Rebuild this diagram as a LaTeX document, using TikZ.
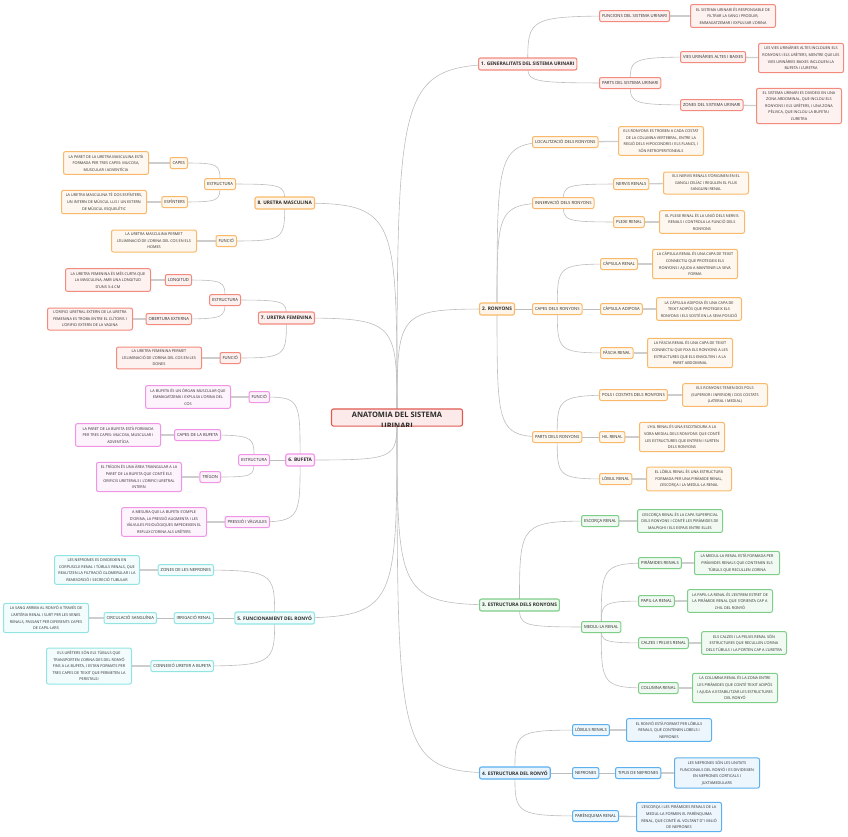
\documentclass[tikz,border=0pt]{standalone}
\usepackage{fontspec}
\setmainfont{Open Sans}
\usepackage{xcolor}
\usepackage{tikz}
\usetikzlibrary{backgrounds}
\definecolor{urired}{HTML}{E05A52}
\definecolor{urisalmon}{HTML}{F28A7E}
\definecolor{uriorange}{HTML}{F8BA6A}
\definecolor{urigreen}{HTML}{7ECD88}
\definecolor{uriblue}{HTML}{5CB0EE}
\definecolor{uripink}{HTML}{F094E6}
\definecolor{uricyan}{HTML}{92E4E4}
\definecolor{urilink}{HTML}{BDBDBD}
\definecolor{uritext}{HTML}{2B2B2B}

\begin{document}
\begin{tikzpicture}[
  x=1pt, y=-1pt,
  every node/.style={text=uritext},
  rootbox/.style={draw=urired, fill=urired!13, line width=1.1pt, rounded corners=2pt,
                  minimum width=131pt, minimum height=17pt, text depth=5pt,
                  font=\fontsize{7.5}{9}\selectfont\bfseries},
  rootline/.style={inner sep=0pt, font=\fontsize{7.5}{9}\selectfont\bfseries},
  topic/.style={draw=#1, fill=#1!14, line width=1.1pt, rounded corners=2pt,
                minimum height=12pt, inner xsep=2.5pt, inner ysep=0pt,
                font=\fontsize{4.8}{6}\selectfont\bfseries},
  sub/.style={draw=#1, fill=#1!12, line width=1pt, rounded corners=2pt,
              minimum height=11pt, inner xsep=2.5pt, inner ysep=0pt,
              font=\fontsize{4.2}{5}\selectfont},
  leaf/.style={draw=#1, fill=#1!11, line width=1pt, rounded corners=2pt, align=center,
               minimum width=85pt, inner xsep=2pt, inner ysep=3pt,
               font=\fontsize{3.8}{6.6}\selectfont},
  branch/.style={draw=urilink, line width=0.6pt},
  link/.style={draw=urilink!75, line width=1.3pt}
]
\useasboundingbox (0,0) rectangle (848,836);

% centre
\node[rootbox] (root) at (397,417.5) {ANATOMIA DEL SISTEMA};
\begin{scope}
  \clip (root.south west) rectangle (root.north east);
  \node[rootline] (rootb) at (397,426) {URINARI};
\end{scope}

% 1. generalitats
\node[topic=urisalmon, anchor=west] (gen) at (478,64) {1. GENERALITATS DEL SISTEMA URINARI};
\node[sub=urisalmon, anchor=west] (genfun) at (599,16) {FUNCIONS DEL SISTEMA URINARI};
\node[leaf=urisalmon, anchor=west] (genfund) at (690,16) {EL SISTEMA URINARI ÉS RESPONSABLE DE\\FILTRAR LA SANG I PRODUIR,\\EMMAGATZEMAR I EXPULSAR L'ORINA};
\node[sub=urisalmon, anchor=west] (genpar) at (599,83) {PARTS DEL SISTEMA URINARI};
\node[sub=urisalmon, anchor=west] (genvies) at (680,57) {VIES URINÀRIES ALTES I BAIXES};
\node[leaf=urisalmon, anchor=west] (genviesd) at (758,58) {LES VIES URINÀRIES ALTES INCLOUEN ELS\\RONYONS I ELS URÈTERS, MENTRE QUE LES\\VIES URINÀRIES BAIXES INCLOUEN LA\\BUFETA I L'URETRA};
\node[sub=urisalmon, anchor=west] (genzon) at (680,105) {ZONES DEL SISTEMA URINARI};
\node[leaf=urisalmon, anchor=west] (genzond) at (756,106) {EL SISTEMA URINARI ES DIVIDEIX EN UNA\\ZONA ABDOMINAL, QUE INCLOU ELS\\RONYONS I ELS URÈTERS, I UNA ZONA\\PÈLVICA, QUE INCLOU LA BUFETA I\\L'URETRA};

% 2. ronyons
\node[topic=uriorange, anchor=west] (ron) at (479,309) {2. RONYONS};
\node[sub=uriorange, anchor=west] (ronloc) at (532,142) {LOCALITZACIÓ DELS RONYONS};
\node[leaf=uriorange, anchor=west] (ronlocd) at (618,141) {ELS RONYONS ES TROBEN A CADA COSTAT\\DE LA COLUMNA VERTEBRAL, ENTRE LA\\REGIÓ DELS HIPOCONDRIS I ELS FLANCS, I\\SÓN RETROPERITONEALS};
\node[sub=uriorange, anchor=west] (roninn) at (532,203) {INNERVACIÓ DELS RONYONS};
\node[sub=uriorange, anchor=west] (ronnerv) at (613,184) {NERVIS RENALS};
\node[leaf=uriorange, anchor=west] (ronnervd) at (663,183) {ELS NERVIS RENALS S'ORIGINEN EN EL\\GANGLI CELÍAC I REGULEN EL FLUX\\SANGUINI RENAL};
\node[sub=uriorange, anchor=west] (ronplex) at (613,222) {PLEXE RENAL};
\node[leaf=uriorange, anchor=west] (ronplexd) at (659,222) {EL PLEXE RENAL ÉS LA UNIÓ DELS NERVIS\\RENALS I CONTROLA LA FUNCIÓ DELS\\RONYONS};
\node[sub=uriorange, anchor=west] (roncap) at (532,309) {CAPES DELS RONYONS};
\node[sub=uriorange, anchor=west] (roncaps) at (600,264) {CÀPSULA RENAL};
\node[leaf=uriorange, anchor=west] (roncapsd) at (652,264) {LA CÀPSULA RENAL ÉS UNA CAPA DE TEIXIT\\CONNECTIU QUE PROTEGEIX ELS\\RONYONS I AJUDA A MANTENIR LA SEVA\\FORMA};
\node[sub=uriorange, anchor=west] (ronadip) at (600,309) {CÀPSULA ADIPOSA};
\node[leaf=uriorange, anchor=west] (ronadipd) at (656,309) {LA CÀPSULA ADIPOSA ÉS UNA CAPA DE\\TEIXIT ADIPÓS QUE PROTEGEIX ELS\\RONYONS I ELS SOSTÉ EN LA SEVA POSICIÓ};
\node[sub=uriorange, anchor=west] (ronfasc) at (600,353) {FÀSCIA RENAL};
\node[leaf=uriorange, anchor=west] (ronfascd) at (647,353) {LA FÀSCIA RENAL ÉS UNA CAPA DE TEIXIT\\CONNECTIU QUE FIXA ELS RONYONS A LES\\ESTRUCTURES QUE ELS ENVOLTEN I A LA\\PARET ABDOMINAL};
\node[sub=uriorange, anchor=west] (ronpar) at (532,437) {PARTS DELS RONYONS};
\node[sub=uriorange, anchor=west] (ronpols) at (599,395) {POLS I COSTATS DELS RONYONS};
\node[leaf=uriorange, anchor=west] (ronpolsd) at (682,395) {ELS RONYONS TENEN DOS POLS\\(SUPERIOR I INFERIOR) I DOS COSTATS\\(LATERAL I MEDIAL)};
\node[sub=uriorange, anchor=west] (ronhil) at (599,437) {HIL RENAL};
\node[leaf=uriorange, anchor=west] (ronhild) at (639,437) {L'HIL RENAL ÉS UNA ESCOTADURA A LA\\VORA MEDIAL DELS RONYONS QUE CONTÉ\\LES ESTRUCTURES QUE ENTREN I SURTEN\\DELS RONYONS};
\node[sub=uriorange, anchor=west] (ronlob) at (599,479) {LÒBUL RENAL};
\node[leaf=uriorange, anchor=west] (ronlobd) at (646,479) {EL LÒBUL RENAL ÉS UNA ESTRUCTURA\\FORMADA PER UNA PIRÀMIDE RENAL,\\L'ESCORÇA I LA MEDUL·LA RENAL};

% 3. estructura dels ronyons
\node[topic=urigreen, anchor=west] (estrs) at (479,605) {3. ESTRUCTURA DELS RONYONS};
\node[sub=urigreen, anchor=west] (esc) at (581,521) {ESCORÇA RENAL};
\node[leaf=urigreen, anchor=west] (escd) at (637,521) {L'ESCORÇA RENAL ÉS LA CAPA SUPERFICIAL\\DELS RONYONS I CONTÉ LES PIRÀMIDES DE\\MALPIGHI I ELS ESPAIS ENTRE ELLES};
\node[sub=urigreen, anchor=west] (med) at (581,627) {MEDUL·LA RENAL};
\node[sub=urigreen, anchor=west] (pir) at (638,563) {PIRÀMIDES RENALS};
\node[leaf=urigreen, anchor=west] (pird) at (694,563) {LA MEDUL·LA RENAL ESTÀ FORMADA PER\\PIRÀMIDES RENALS QUE CONTENEN ELS\\TÚBULS QUE RECULLEN L'ORINA};
\node[sub=urigreen, anchor=west] (pap) at (638,601) {PAPIL·LA RENAL};
\node[leaf=urigreen, anchor=west] (papd) at (687,601) {LA PAPIL·LA RENAL ÉS L'EXTREM ESTRET DE\\LA PIRÀMIDE RENAL QUE S'ORIENTA CAP A\\L'HIL DEL RONYÓ};
\node[sub=urigreen, anchor=west] (calz) at (638,643) {CALZES I PELVIS RENAL};
\node[leaf=urigreen, anchor=west] (calzd) at (701,643) {ELS CALZES I LA PELVIS RENAL SÓN\\ESTRUCTURES QUE RECULLEN L'ORINA\\DELS TÚBULS I LA PORTEN CAP A L'URETRA};
\node[sub=urigreen, anchor=west] (col) at (638,688) {COLUMNA RENAL};
\node[leaf=urigreen, anchor=west] (cold) at (692,688) {LA COLUMNA RENAL ÉS LA ZONA ENTRE\\LES PIRÀMIDES QUE CONTÉ TEIXIT ADIPÓS\\I AJUDA A ESTABILITZAR LES ESTRUCTURES\\DEL RONYÓ};

% 4. estructura del ronyo
\node[topic=uriblue, anchor=west] (estr) at (479,773) {4. ESTRUCTURA DEL RONYÓ};
\node[sub=uriblue, anchor=west] (lobs) at (572,730) {LÒBULS RENALS};
\node[leaf=uriblue, anchor=west] (lobsd) at (626,730) {EL RONYÓ ESTÀ FORMAT PER LÒBULS\\RENALS, QUE CONTENEN LOBELS I\\NEFRONES};
\node[sub=uriblue, anchor=west] (nef) at (572,773) {NEFRONES};
\node[sub=uriblue, anchor=west] (tip) at (615,773) {TIPUS DE NEFRONES};
\node[leaf=uriblue, anchor=west] (tipd) at (674,773) {LES NEFRONES SÓN LES UNITATS\\FUNCIONALS DEL RONYÓ I ES DIVIDEIXEN\\EN NEFRONES CORTICALS I\\JUXTAMEDULARS};
\node[sub=uriblue, anchor=west] (par) at (572,816) {PARÈNQUIMA RENAL};
\node[leaf=uriblue, anchor=west] (pard) at (636,817) {L'ESCORÇA I LES PIRÀMIDES RENALS DE LA\\MEDUL·LA FORMEN EL PARÈNQUIMA\\RENAL, QUE CONTÉ AL VOLTANT D'1 MILIÓ\\DE NEFRONES};

% 8. uretra masculina
\node[topic=uriorange, anchor=east] (urmasc) at (315,203) {8. URETRA MASCULINA};
\node[sub=uriorange, anchor=east] (mestr) at (236,184) {ESTRUCTURA};
\node[sub=uriorange, anchor=east] (mcap) at (188,163) {CAPES};
\node[leaf=uriorange, anchor=east] (mcapd) at (149,163) {LA PARET DE LA URETRA MASCULINA ESTÀ\\FORMADA PER TRES CAPES: MUCOSA,\\MUSCULAR I ADVENTÍCIA};
\node[sub=uriorange, anchor=east] (mesf) at (188,202) {ESFÍNTERS};
\node[leaf=uriorange, anchor=east] (mesfd) at (147,202) {LA URETRA MASCULINA TÉ DOS ESFÍNTERS,\\UN INTERN DE MÚSCUL LLIS I UN EXTERN\\DE MÚSCUL ESQUELÈTIC};
\node[sub=uriorange, anchor=east] (mfun) at (237,241) {FUNCIÓ};
\node[leaf=uriorange, anchor=east] (mfund) at (197,241) {LA URETRA MASCULINA PERMET\\L'ELIMINACIÓ DE L'ORINA DEL COS EN ELS\\HOMES};

% 7. uretra femenina
\node[topic=urisalmon, anchor=east] (urfem) at (315,318) {7. URETRA FEMENINA};
\node[sub=urisalmon, anchor=east] (festr) at (241,300) {ESTRUCTURA};
\node[sub=urisalmon, anchor=east] (flon) at (192,280) {LONGITUD};
\node[leaf=urisalmon, anchor=east] (flond) at (151,280) {LA URETRA FEMENINA ÉS MÉS CURTA QUE\\LA MASCULINA, AMB UNA LONGITUD\\D'UNS 3-4 CM};
\node[sub=urisalmon, anchor=east] (fobe) at (192,319) {OBERTURA EXTERNA};
\node[leaf=urisalmon, anchor=east] (fobed) at (133,319) {L'ORIFICI URETRAL EXTERN DE LA URETRA\\FEMENINA ES TROBA ENTRE EL CLÍTORIS I\\L'ORIFICI EXTERN DE LA VAGINA};
\node[sub=urisalmon, anchor=east] (ffun) at (241,358) {FUNCIÓ};
\node[leaf=urisalmon, anchor=east] (ffund) at (202,358) {LA URETRA FEMENINA PERMET\\L'ELIMINACIÓ DE L'ORINA DEL COS EN LES\\DONES};

% 6. bufeta
\node[topic=uripink, anchor=east] (bufeta) at (315,460) {6. BUFETA};
\node[sub=uripink, anchor=east] (bfun) at (270,397) {FUNCIÓ};
\node[leaf=uripink, anchor=east] (bfund) at (231,397) {LA BUFETA ÉS UN ÒRGAN MUSCULAR QUE\\EMMAGATZEMA I EXPULSA L'ORINA DEL\\COS};
\node[sub=uripink, anchor=east] (bestr) at (270,460) {ESTRUCTURA};
\node[sub=uripink, anchor=east] (bcap) at (221,435) {CAPES DE LA BUFETA};
\node[leaf=uripink, anchor=east] (bcapd) at (161,435) {LA PARET DE LA BUFETA ESTÀ FORMADA\\PER TRES CAPES: MUCOSA, MUSCULAR I\\ADVENTÍCIA};
\node[sub=uripink, anchor=east] (btri) at (221,477) {TRÍGON};
\node[leaf=uripink, anchor=east] (btrid) at (182,477) {EL TRÍGON ÉS UNA ÀREA TRIANGULAR A LA\\PARET DE LA BUFETA QUE CONTÉ ELS\\ORIFICIS URETERALS I L'ORIFICI URETRAL\\INTERN};
\node[sub=uripink, anchor=east] (bpre) at (270,522) {PRESSIÓ I VÀLVULES};
\node[leaf=uripink, anchor=east] (bpred) at (207,522) {A MESURA QUE LA BUFETA S'OMPLE\\D'ORINA, LA PRESSIÓ AUGMENTA I LES\\VÀLVULES FISIOLÒGIQUES IMPEDEIXEN EL\\REFLUX D'ORINA ALS URÈTERS};

% 5. funcionament
\node[topic=uricyan, anchor=east] (func) at (315,618) {5. FUNCIONAMENT DEL RONYÓ};
\node[sub=uricyan, anchor=east] (fzon) at (214,570) {ZONES DE LES NEFRONES};
\node[leaf=uricyan, anchor=east] (fzond) at (140,570) {LES NEFRONES ES DIVIDEIXEN EN\\CORPUSCLE RENAL I TÚBULS RENALS, QUE\\REALITZEN LA FILTRACIÓ GLOMERULAR I LA\\REABSORCIÓ I SECRECIÓ TUBULAR};
\node[sub=uricyan, anchor=east] (firr) at (214,618) {IRRIGACIÓ RENAL};
\node[sub=uricyan, anchor=east] (fcir) at (157,618) {CIRCULACIÓ SANGUÍNIA};
\node[leaf=uricyan, anchor=east] (fcird) at (89,618) {LA SANG ARRIBA AL RONYÓ A TRAVÉS DE\\L'ARTÈRIA RENAL I SURT PER LES VENES\\RENALS, PASSANT PER DIFERENTS CAPES\\DE CAPIL·LARS};
\node[sub=uricyan, anchor=east] (fcon) at (214,666) {CONNEXIÓ URETER A BUFETA};
\node[leaf=uricyan, anchor=east] (fcond) at (132,666) {ELS URÈTERS SÓN ELS TÚBULS QUE\\TRANSPORTEN L'ORINA DES DEL RONYÓ\\FINS A LA BUFETA, I ESTAN FORMATS PER\\TRES CAPES DE TEIXIT QUE PERMETEN LA\\PERISTALSI};

\begin{scope}[on background layer]
% branches out of the centre
\draw[branch] (root.center) .. controls (root.center |- gen.center) .. (gen.center);
\draw[branch] (root.center) .. controls (root.center |- ron.center) .. (ron.center);
\draw[branch] (root.center) .. controls (root.center |- estrs.center) .. (estrs.center);
\draw[branch] (root.center) .. controls (root.center |- estr.center) .. (estr.center);
\draw[branch] (root.center) .. controls (root.center |- urmasc.center) .. (urmasc.center);
\draw[branch] (root.center) .. controls (root.center |- urfem.center) .. (urfem.center);
\draw[branch] (root.center) .. controls (root.center |- bufeta.center) .. (bufeta.center);
\draw[branch] (root.center) .. controls (root.center |- func.center) .. (func.center);
% 1
\draw[branch] (gen.center) .. controls (gen.center |- genfun.center) .. (genfun.center);
\draw[branch] (gen.center) .. controls (gen.center |- genpar.center) .. (genpar.center);
\draw[branch] (genpar.center) .. controls (genpar.center |- genvies.center) .. (genvies.center);
\draw[branch] (genpar.center) .. controls (genpar.center |- genzon.center) .. (genzon.center);
\draw[link] (genfun) -- (genfund);
\draw[link] (genvies) -- (genviesd);
\draw[link] (genzon) -- (genzond);
% 2
\draw[branch] (ron.center) .. controls (ron.center |- ronloc.center) .. (ronloc.center);
\draw[branch] (ron.center) .. controls (ron.center |- roninn.center) .. (roninn.center);
\draw[branch] (ron) -- (roncap);
\draw[branch] (ron.center) .. controls (ron.center |- ronpar.center) .. (ronpar.center);
\draw[branch] (roninn.center) .. controls (roninn.center |- ronnerv.center) .. (ronnerv.center);
\draw[branch] (roninn.center) .. controls (roninn.center |- ronplex.center) .. (ronplex.center);
\draw[branch] (roncap.center) .. controls (roncap.center |- roncaps.center) .. (roncaps.center);
\draw[branch] (roncap) -- (ronadip);
\draw[branch] (roncap.center) .. controls (roncap.center |- ronfasc.center) .. (ronfasc.center);
\draw[branch] (ronpar.center) .. controls (ronpar.center |- ronpols.center) .. (ronpols.center);
\draw[branch] (ronpar) -- (ronhil);
\draw[branch] (ronpar.center) .. controls (ronpar.center |- ronlob.center) .. (ronlob.center);
\draw[link] (ronloc) -- (ronlocd);
\draw[link] (ronnerv) -- (ronnervd);
\draw[link] (ronplex) -- (ronplexd);
\draw[link] (roncaps) -- (roncapsd);
\draw[link] (ronadip) -- (ronadipd);
\draw[link] (ronfasc) -- (ronfascd);
\draw[link] (ronpols) -- (ronpolsd);
\draw[link] (ronhil) -- (ronhild);
\draw[link] (ronlob) -- (ronlobd);
% 3
\draw[branch] (estrs.center) .. controls (estrs.center |- esc.center) .. (esc.center);
\draw[branch] (estrs.center) .. controls (estrs.center |- med.center) .. (med.center);
\draw[branch] (med.center) .. controls (med.center |- pir.center) .. (pir.center);
\draw[branch] (med.center) .. controls (med.center |- pap.center) .. (pap.center);
\draw[branch] (med.center) .. controls (med.center |- calz.center) .. (calz.center);
\draw[branch] (med.center) .. controls (med.center |- col.center) .. (col.center);
\draw[link] (esc) -- (escd);
\draw[link] (pir) -- (pird);
\draw[link] (pap) -- (papd);
\draw[link] (calz) -- (calzd);
\draw[link] (col) -- (cold);
% 4
\draw[branch] (estr.center) .. controls (estr.center |- lobs.center) .. (lobs.center);
\draw[branch] (estr) -- (nef);
\draw[branch] (estr.center) .. controls (estr.center |- par.center) .. (par.center);
\draw[branch] (nef) -- (tip);
\draw[link] (lobs) -- (lobsd);
\draw[link] (tip) -- (tipd);
\draw[link] (par) -- (pard);
% 8
\draw[branch] (urmasc.center) .. controls (urmasc.center |- mestr.center) .. (mestr.center);
\draw[branch] (urmasc.center) .. controls (urmasc.center |- mfun.center) .. (mfun.center);
\draw[branch] (mestr.center) .. controls (mestr.center |- mcap.center) .. (mcap.center);
\draw[branch] (mestr.center) .. controls (mestr.center |- mesf.center) .. (mesf.center);
\draw[link] (mcap) -- (mcapd);
\draw[link] (mesf) -- (mesfd);
\draw[link] (mfun) -- (mfund);
% 7
\draw[branch] (urfem.center) .. controls (urfem.center |- festr.center) .. (festr.center);
\draw[branch] (urfem.center) .. controls (urfem.center |- ffun.center) .. (ffun.center);
\draw[branch] (festr.center) .. controls (festr.center |- flon.center) .. (flon.center);
\draw[branch] (festr.center) .. controls (festr.center |- fobe.center) .. (fobe.center);
\draw[link] (flon) -- (flond);
\draw[link] (fobe) -- (fobed);
\draw[link] (ffun) -- (ffund);
% 6
\draw[branch] (bufeta.center) .. controls (bufeta.center |- bfun.center) .. (bfun.center);
\draw[branch] (bufeta) -- (bestr);
\draw[branch] (bufeta.center) .. controls (bufeta.center |- bpre.center) .. (bpre.center);
\draw[branch] (bestr.center) .. controls (bestr.center |- bcap.center) .. (bcap.center);
\draw[branch] (bestr.center) .. controls (bestr.center |- btri.center) .. (btri.center);
\draw[link] (bfun) -- (bfund);
\draw[link] (bcap) -- (bcapd);
\draw[link] (btri) -- (btrid);
\draw[link] (bpre) -- (bpred);
% 5
\draw[branch] (func.center) .. controls (func.center |- fzon.center) .. (fzon.center);
\draw[branch] (func) -- (firr);
\draw[branch] (func.center) .. controls (func.center |- fcon.center) .. (fcon.center);
\draw[branch] (firr) -- (fcir);
\draw[link] (fzon) -- (fzond);
\draw[link] (fcir) -- (fcird);
\draw[link] (fcon) -- (fcond);
\end{scope}
\end{tikzpicture}
\end{document}
